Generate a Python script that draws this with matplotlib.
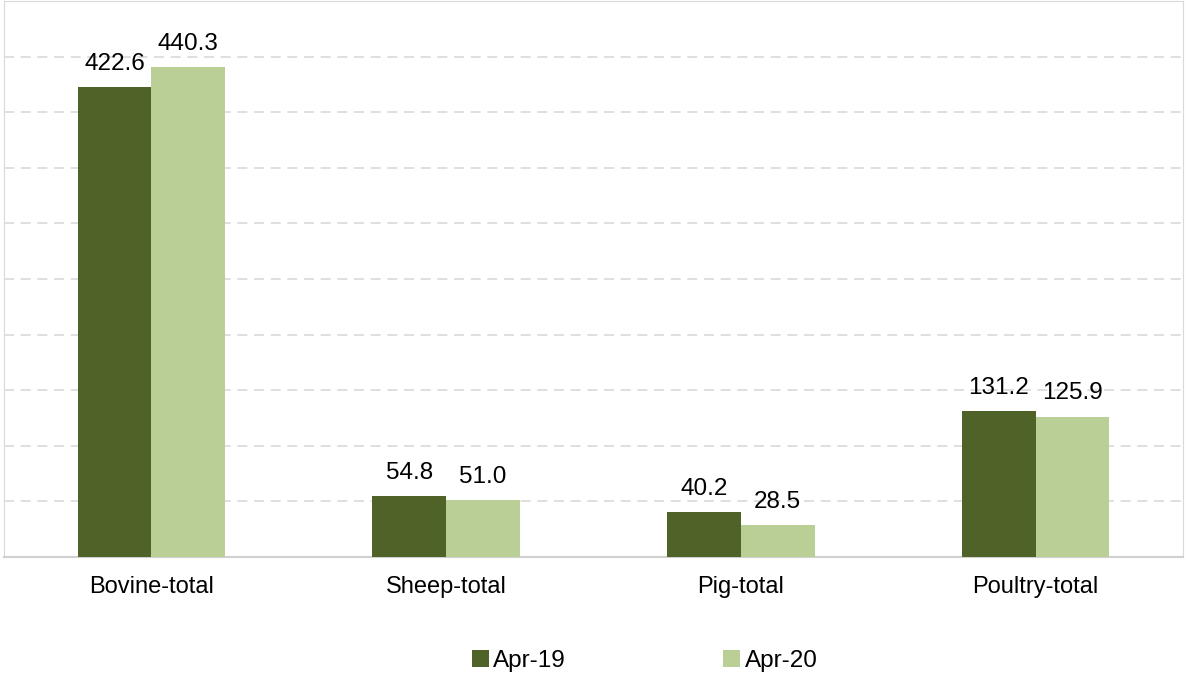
import matplotlib.pyplot as plt
import numpy as np

plt.rcParams['font.family'] = ['Liberation Sans', 'DejaVu Sans']

categories = ['Bovine-total', 'Sheep-total', 'Pig-total', 'Poultry-total']
apr19 = [422.6, 54.8, 40.2, 131.2]
apr20 = [440.3, 51.0, 28.5, 125.9]
series_names = ['Apr-19', 'Apr-20']

dark_green = '#4F6228'
light_green = '#B9CF96'

fig = plt.figure(figsize=(11.86, 6.78), dpi=100)
ax = fig.add_axes([4 / 1186, 1 - 557 / 678, 1179 / 1186, 556 / 678])

x = np.arange(len(categories))
w = 0.25
b1 = ax.bar(x - w / 2, apr19, w, color=dark_green, label=series_names[0], zorder=3)
b2 = ax.bar(x + w / 2, apr20, w, color=light_green, label=series_names[1], zorder=3)

for bars in (b1, b2):
    for rect in bars:
        h = rect.get_height()
        ax.annotate(f'{h:.1f}', (rect.get_x() + rect.get_width() / 2, h),
                    xytext=(0, 9), textcoords='offset points',
                    ha='center', va='bottom', fontsize=17.5)

ax.set_xlim(-0.5, len(categories) - 0.5)
ax.set_ylim(0, 500)
ax.set_yticks(np.arange(50, 500, 50))
ax.yaxis.grid(True, color='#D9D9D9', linestyle=(0, (6, 4)), lw=1.2, zorder=0)
ax.tick_params(axis='y', length=0, labelleft=False)
ax.tick_params(axis='x', length=0, labelsize=17, pad=14)
ax.set_xticks(x)
ax.set_xticklabels(categories)
for side in ['left', 'right', 'top']:
    ax.spines[side].set_color('#D9D9D9')
ax.spines['bottom'].set_color('#D0D0D0')
ax.spines['bottom'].set_linewidth(1.5)

fig.legend(handles=[b1, b2], labels=series_names, loc='center',
           bbox_to_anchor=(0.5435, 1 - 661 / 678), ncol=2, frameon=False,
           fontsize=17.5, handlelength=0.7, handleheight=0.7,
           handletextpad=0.2, columnspacing=6.45)

fig.savefig('out.png', dpi=100)
